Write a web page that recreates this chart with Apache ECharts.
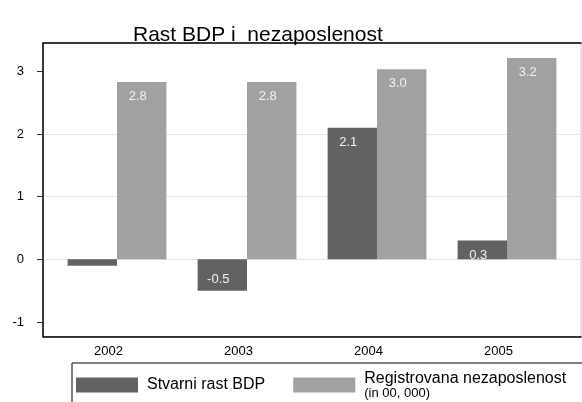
<!DOCTYPE html>
<html><head><meta charset="utf-8">
<script src="https://cdn.jsdelivr.net/npm/echarts@6/dist/echarts.min.js"></script>
<style>html,body{margin:0;padding:0;background:#fff}#c{width:582px;height:402px}</style>
</head><body><div id="c"></div>
<script>
const titleText = 'Rast BDP i  nezaposlenost';
const categories = ['2002', '2003', '2004', '2005'];
const gdpGrowth = [-0.1, -0.5, 2.1, 0.3];
const unemployment = [2.83, 2.83, 3.03, 3.21];
const seriesNames = ['Stvarni rast BDP', 'Registrovana nezaposlenost'];
const unemploymentUnit = '(in 00, 000)';
const yTicks = [-1, 0, 1, 2, 3];

const FONT = '"Liberation Sans", Arial, sans-serif';
const yMin = -1.23, yMax = 3.45;
const chart = echarts.init(document.getElementById('c'), null, {renderer: 'canvas'});

function barData(values) {
  return values.map(v => ({
    value: v,
    label: {
      show: Math.abs(v) >= 0.2,
      position: v < 0 ? 'insideBottom' : 'insideTop',
      distance: v < 0 ? 5 : 8
    }
  }));
}
const barLabel = {
  color: '#f2f2f2', fontSize: 13, fontFamily: FONT, offset: [-4, 0],
  formatter: p => Number(p.value).toFixed(1)
};
const frameLine = {show: true, onZero: false, lineStyle: {color: '#000', width: 1.5}};

chart.setOption({
  animation: false,
  backgroundColor: '#fff',
  title: {
    text: titleText, left: 133, top: 25, padding: 0,
    textStyle: {fontSize: 21, fontWeight: 'normal', color: '#000', fontFamily: FONT}
  },
  grid: [
    {left: 43, right: 1, top: 43, bottom: 65.5, show: true, borderColor: '#c8c8c8', borderWidth: 1, containLabel: false},
    {left: 52, right: 10, top: 43, bottom: 65.5, containLabel: false}
  ],
  xAxis: [
    {gridIndex: 0, type: 'value', min: 0, max: 1, position: 'bottom', axisLine: frameLine,
     axisTick: {show: false}, axisLabel: {show: false}, splitLine: {show: false}},
    {gridIndex: 0, type: 'value', min: 0, max: 1, position: 'top', axisLine: frameLine,
     axisTick: {show: false}, axisLabel: {show: false}, splitLine: {show: false}},
    {gridIndex: 1, type: 'category', data: categories, position: 'bottom',
     axisLine: {show: false, onZero: false}, axisTick: {show: false}, splitLine: {show: false},
     axisLabel: {color: '#000', fontSize: 13, fontFamily: FONT, margin: 8, padding: [0, 17, 0, 0]}}
  ],
  yAxis: [
    {gridIndex: 0, type: 'value', min: yMin, max: yMax,
     axisLine: {show: true, onZero: false, lineStyle: {color: '#000', width: 1.5}},
     axisTick: {show: true, length: 6, lineStyle: {color: '#333'}, customValues: yTicks},
     axisLabel: {color: '#000', fontSize: 13, fontFamily: FONT, margin: 19,
       formatter: v => (Math.abs(v - Math.round(v)) < 1e-6 ? String(Math.round(v)) : '')},
     splitLine: {show: true, showMinLine: false, showMaxLine: false, lineStyle: {color: '#e4e4e4', width: 1}}},
    {gridIndex: 1, type: 'value', min: yMin, max: yMax, show: false, splitLine: {show: false}}
  ],
  legend: {
    left: 72, top: 363, orient: 'horizontal', width: 800,
    data: seriesNames,
    icon: 'rect', itemWidth: 62, itemHeight: 15, itemGap: 28,
    borderColor: '#000', borderWidth: 1, borderRadius: 0,
    padding: [7, 60, 40, 4],
    textStyle: {fontSize: 16, lineHeight: 17, color: '#000', fontFamily: FONT, padding: [0, 0, 0, 4],
      rich: {s: {fontSize: 13, lineHeight: 13, color: '#000', fontFamily: FONT}}},
    formatter: name => name === seriesNames[1] ? name + '\n{s|' + unemploymentUnit + '}' : name
  },
  series: [
    {type: 'bar', name: seriesNames[0], xAxisIndex: 2, yAxisIndex: 1, data: barData(gdpGrowth),
     barGap: '0%', barCategoryGap: '24%', itemStyle: {color: '#626262'}, label: barLabel},
    {type: 'bar', name: seriesNames[1], xAxisIndex: 2, yAxisIndex: 1, data: barData(unemployment),
     barGap: '0%', barCategoryGap: '24%', itemStyle: {color: '#a1a1a1'}, label: barLabel}
  ]
});
</script>
</body></html>
